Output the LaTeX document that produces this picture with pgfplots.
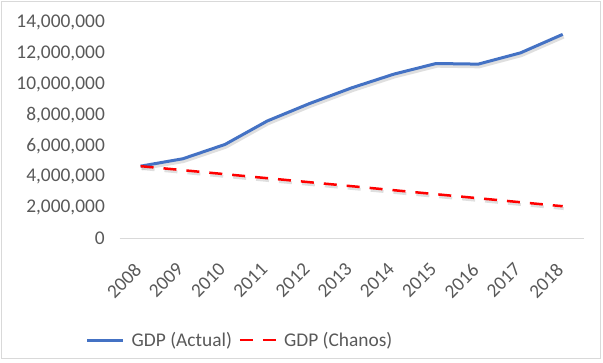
\documentclass[border=0pt]{standalone}
\usepackage{fontspec}
\setmainfont{Carlito}
\usepackage{pgfplots}
\pgfplotsset{compat=1.18}
\definecolor{txtgray}{RGB}{89,89,89}
\definecolor{linegray}{RGB}{217,217,217}
\definecolor{xlblue}{RGB}{68,114,196}
\definecolor{xlred}{RGB}{255,0,0}
\begin{document}
\begin{tikzpicture}
\path[use as bounding box] (0,0) rectangle (603bp,363bp);
\draw[linegray, line width=0.8bp] (1bp,5bp) rectangle (600bp,362bp);
\begin{axis}[
  at={(119.5bp,124.7bp)}, anchor=south west,
  scale only axis, width=464.3bp, height=215.8bp,
  xmin=-0.5, xmax=10.5, ymin=0, ymax=14000000,
  xtick={0,...,10},
  xticklabels={2008,2009,2010,2011,2012,2013,2014,2015,2016,2017,2018},
  ytick={0,2000000,4000000,6000000,8000000,10000000,12000000,14000000},
  scaled y ticks=false,
  /pgf/number format/.cd, fixed, 1000 sep={,}, assume math mode=true,
  /pgfplots/.cd,
  axis x line*=bottom, axis y line*=left,
  x axis line style={draw=linegray, line width=0.8bp, -},
  y axis line style={draw=none},
  major tick length=0pt,
  tick style={draw=none},
  ticklabel style={font=\fontsize{19.4bp}{23bp}\selectfont, text=txtgray},
  yticklabel style={anchor=east, inner sep=0pt, xshift=-14.5bp},
  xticklabel style={xshift=-7.5bp, yshift=-23.5bp, rotate=45, anchor=north east, inner sep=0pt},
  clip=false,
  legend columns=-1,
  legend style={at={(0.2574,-0.4713)}, anchor=center, draw=none, fill=none,
    font=\fontsize{19.4bp}{23bp}\selectfont, text=txtgray,
    nodes={inner sep=0pt},
    /tikz/every odd column/.append style={column sep=7bp},
    /tikz/every even column/.append style={column sep=6.7bp}},
  legend image code/.code={\draw[#1] (0bp,0bp) -- (36bp,0bp);},
]
% shadows
\addplot[black!25, opacity=0.5, line width=3.6bp, forget plot, transform canvas={xshift=1bp,yshift=-2.4bp}] coordinates {
(0,4.68e6) (1,5.16e6) (2,6.09e6) (3,7.61e6) (4,8.74e6) (5,9.76e6) (6,10.65e6) (7,11.34e6) (8,11.30e6) (9,12.03e6) (10,13.23e6)};
\addplot[black!25, opacity=0.5, line width=2.8bp, dash pattern=on 13bp off 10bp, forget plot, transform canvas={xshift=1bp,yshift=-2.4bp}] coordinates {
(0,4.68e6) (1,4.42e6) (2,4.16e6) (3,3.90e6) (4,3.64e6) (5,3.38e6) (6,3.12e6) (7,2.86e6) (8,2.60e6) (9,2.34e6) (10,2.08e6)};
% lines
\addplot[xlblue, line width=3bp, line join=round] coordinates {
(0,4.68e6) (1,5.16e6) (2,6.09e6) (3,7.61e6) (4,8.74e6) (5,9.76e6) (6,10.65e6) (7,11.34e6) (8,11.30e6) (9,12.03e6) (10,13.23e6)};
\addlegendentry{GDP (Actual)}
\addplot[xlred, line width=2.5bp, dash pattern=on 13bp off 10bp] coordinates {
(0,4.68e6) (1,4.42e6) (2,4.16e6) (3,3.90e6) (4,3.64e6) (5,3.38e6) (6,3.12e6) (7,2.86e6) (8,2.60e6) (9,2.34e6) (10,2.08e6)};
\addlegendentry{GDP (Chanos)}
\end{axis}
\end{tikzpicture}
\end{document}
